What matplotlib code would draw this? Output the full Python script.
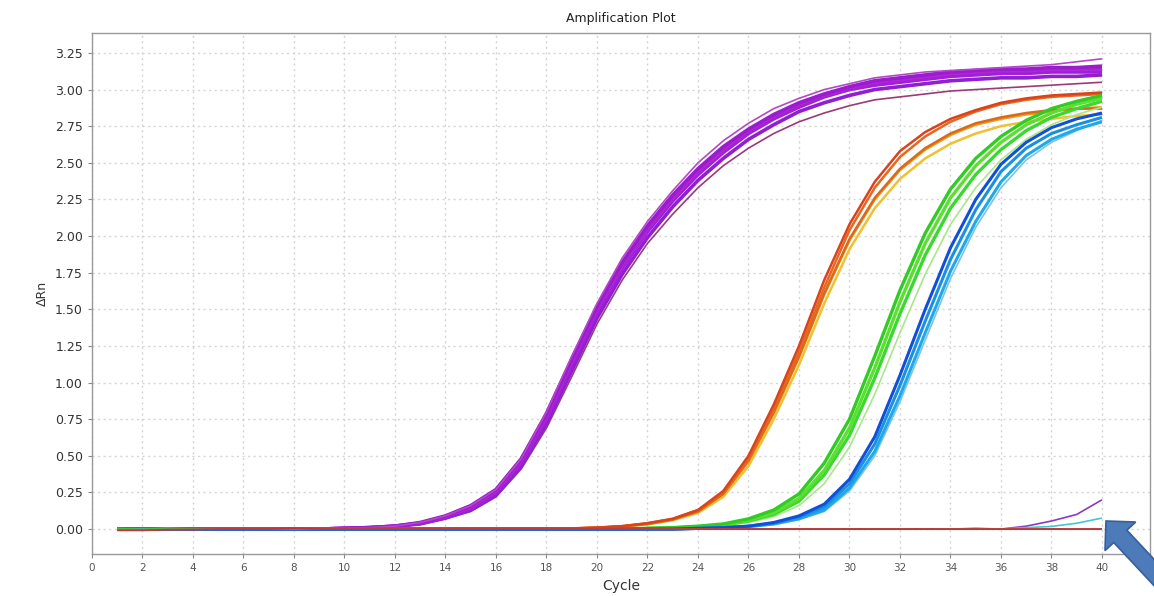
import matplotlib
matplotlib.use("Agg")
import matplotlib.pyplot as plt
from matplotlib.patches import FancyArrow

cycles = list(range(1, 41))

# ---- purple group (earliest) : cycles 1-9 baseline, then 10-19, 20-29, 30-40 ----
purple_1 = [0.0]*9 + [0.005, 0.01, 0.02, 0.04, 0.08, 0.14, 0.25, 0.45, 0.75, 1.12,
                      1.48, 1.78, 2.03, 2.24, 2.42, 2.57, 2.70, 2.80, 2.88, 2.95,
                      3.00, 3.03, 3.05, 3.07, 3.09, 3.10, 3.11, 3.11, 3.12, 3.12, 3.12]
purple_2 = [0.0]*9 + [0.005, 0.01, 0.02, 0.045, 0.09, 0.16, 0.27, 0.48, 0.79, 1.16,
                      1.52, 1.82, 2.07, 2.28, 2.46, 2.61, 2.73, 2.83, 2.91, 2.97,
                      3.02, 3.06, 3.08, 3.10, 3.12, 3.13, 3.14, 3.14, 3.15, 3.15, 3.16]
purple_3 = [0.0]*9 + [0.004, 0.008, 0.018, 0.035, 0.075, 0.13, 0.23, 0.43, 0.72, 1.08,
                      1.44, 1.74, 1.99, 2.20, 2.38, 2.53, 2.66, 2.76, 2.85, 2.91,
                      2.96, 3.00, 3.02, 3.04, 3.06, 3.07, 3.08, 3.08, 3.09, 3.09, 3.10]
purple_4 = [0.0]*9 + [0.005, 0.01, 0.02, 0.045, 0.09, 0.16, 0.27, 0.48, 0.80, 1.18,
                      1.54, 1.85, 2.10, 2.31, 2.50, 2.65, 2.77, 2.87, 2.94, 3.00,
                      3.04, 3.08, 3.10, 3.12, 3.13, 3.14, 3.15, 3.16, 3.17, 3.19, 3.21]
purple_5 = [0.0]*9 + [0.004, 0.008, 0.017, 0.033, 0.07, 0.12, 0.22, 0.41, 0.69, 1.04,
                      1.40, 1.70, 1.95, 2.15, 2.33, 2.48, 2.60, 2.70, 2.78, 2.84,
                      2.89, 2.93, 2.95, 2.97, 2.99, 3.00, 3.01, 3.02, 3.03, 3.04, 3.05]
purple_6 = [0.0]*9 + [0.005, 0.01, 0.02, 0.04, 0.085, 0.15, 0.26, 0.47, 0.77, 1.14,
                      1.50, 1.80, 2.05, 2.26, 2.44, 2.59, 2.72, 2.82, 2.90, 2.96,
                      3.01, 3.05, 3.07, 3.09, 3.11, 3.12, 3.13, 3.13, 3.14, 3.14, 3.14]

# ---- orange / yellow group : cycles 19-28, 29-40 ----
orange_1 = [0.0]*18 + [0.005, 0.01, 0.02, 0.04, 0.07, 0.13, 0.26, 0.50, 0.85, 1.25,
                       1.70, 2.08, 2.37, 2.58, 2.71, 2.80, 2.86, 2.91, 2.94, 2.96, 2.97, 2.98]
orange_2 = [0.0]*18 + [0.004, 0.01, 0.02, 0.04, 0.07, 0.13, 0.25, 0.48, 0.82, 1.21,
                       1.65, 2.04, 2.33, 2.54, 2.68, 2.78, 2.85, 2.90, 2.93, 2.95, 2.96, 2.97]
orange_3 = [0.0]*18 + [0.004, 0.009, 0.018, 0.035, 0.065, 0.12, 0.24, 0.46, 0.79, 1.17,
                       1.60, 1.97, 2.25, 2.45, 2.59, 2.69, 2.76, 2.80, 2.83, 2.85, 2.87, 2.88]
orange_4 = [0.0]*18 + [0.003, 0.008, 0.016, 0.032, 0.06, 0.11, 0.22, 0.43, 0.75, 1.12,
                       1.54, 1.91, 2.19, 2.39, 2.53, 2.63, 2.70, 2.75, 2.78, 2.80, 2.82, 2.83]
orange_5 = [0.0]*18 + [0.004, 0.009, 0.018, 0.035, 0.065, 0.12, 0.24, 0.47, 0.80, 1.18,
                       1.61, 1.98, 2.26, 2.46, 2.60, 2.70, 2.77, 2.81, 2.84, 2.86, 2.87, 2.87]

# ---- green group : cycles 22-31, 32-40 ----
green_1 = [0.0]*21 + [0.005, 0.01, 0.02, 0.035, 0.07, 0.13, 0.24, 0.45, 0.75, 1.18,
                      1.63, 2.02, 2.32, 2.53, 2.68, 2.79, 2.87, 2.92, 2.96]
green_2 = [0.0]*21 + [0.004, 0.008, 0.015, 0.03, 0.06, 0.11, 0.21, 0.40, 0.69, 1.10,
                      1.55, 1.95, 2.26, 2.48, 2.64, 2.76, 2.84, 2.90, 2.94]
green_3 = [0.0]*21 + [0.004, 0.008, 0.015, 0.028, 0.055, 0.10, 0.19, 0.37, 0.64, 1.03,
                      1.47, 1.87, 2.19, 2.42, 2.59, 2.72, 2.81, 2.87, 2.92]
green_4 = [0.0]*21 + [0.003, 0.006, 0.012, 0.024, 0.045, 0.085, 0.16, 0.31, 0.56, 0.92,
                      1.34, 1.74, 2.08, 2.33, 2.52, 2.66, 2.76, 2.83, 2.88]

# ---- blue group : cycles 24-33, 34-40 ----
blue_1 = [0.0]*23 + [0.005, 0.01, 0.02, 0.04, 0.08, 0.15, 0.31, 0.58, 0.98, 1.42,
                     1.84, 2.18, 2.44, 2.60, 2.70, 2.76, 2.81]
blue_2 = [0.0]*23 + [0.005, 0.01, 0.02, 0.045, 0.09, 0.17, 0.34, 0.63, 1.05, 1.50,
                     1.92, 2.25, 2.49, 2.64, 2.74, 2.80, 2.84]
blue_3 = [0.0]*23 + [0.004, 0.008, 0.016, 0.035, 0.07, 0.13, 0.28, 0.53, 0.91, 1.34,
                     1.76, 2.10, 2.37, 2.55, 2.66, 2.73, 2.78]
blue_4 = [0.0]*23 + [0.004, 0.008, 0.015, 0.03, 0.065, 0.12, 0.26, 0.50, 0.87, 1.29,
                     1.71, 2.06, 2.33, 2.52, 2.64, 2.72, 2.79]

# ---- late / negative wells ----
late_purple = [0.0]*34 + [0.005, 0.0, 0.02, 0.055, 0.10, 0.20]
late_cyan = [0.0]*35 + [0.0, 0.01, 0.018, 0.04, 0.075]
ntc_red = [-0.008, -0.008, -0.004, -0.003, 0.0, 0.0, 0.0, 0.004, 0.0] + [0.0]*31
noise_green = [0.004, -0.002, 0.008, 0.0, 0.0] + [0.0]*35

groups = [
    ([purple_5], ["#9c3a78"], 1.2),
    ([purple_3, purple_1, purple_6, purple_2], ["#8f1fd1", "#a21fd8", "#b024d4", "#9a1ccf"], 2.6),
    ([purple_4], ["#b448c8"], 1.2),
    ([orange_4, orange_3, orange_5], ["#f0c030", "#f09a20", "#d86a1a"], 1.8),
    ([orange_2, orange_1], ["#e8661e", "#d8441c"], 1.8),
    ([green_4], ["#a8e88a"], 1.2),
    ([green_3, green_2, green_1], ["#3ad830", "#5ce030", "#30cc24"], 2.4),
    ([blue_4], ["#78c4ec"], 1.2),
    ([blue_3, blue_1, blue_2], ["#20a8e8", "#1a90e0", "#1050d8"], 2.2),
    ([late_purple], ["#8a3cc0"], 1.2),
    ([late_cyan], ["#40c8d0"], 1.2),
    ([noise_green], ["#40c040"], 1.2),
    ([ntc_red], ["#c8323c"], 1.4),
]

fig = plt.figure(figsize=(11.54, 5.96), dpi=100)
ax = fig.add_axes([0.0797, 0.0705, 0.9168, 0.8741])

for curves, colors, lw in groups:
    for c, col in zip(curves, colors):
        ax.plot(cycles, c, color=col, lw=lw, solid_capstyle="butt")

ax.set_xlim(0, 41.9)
ax.set_ylim(-0.17, 3.386)
ax.set_xticks(range(0, 41, 2))
yt = [i * 0.25 for i in range(14)]
ax.set_yticks(yt)
ax.set_yticklabels([f"{v:.2f}" for v in yt])
ax.grid(True, color="#d4d4d4", linestyle=(0, (1.5, 2.5)), linewidth=1.0)
ax.set_axisbelow(True)
ax.tick_params(axis="y", labelsize=9, colors="#333333", length=3, color="#888888")
ax.tick_params(axis="x", labelsize=7.5, colors="#555555", length=3, color="#888888")
for s in ax.spines.values():
    s.set_color("#999999")
    s.set_linewidth(1.0)

ax.set_title("Amplification Plot", fontsize=9, color="#222222", pad=8)
ax.set_xlabel("Cycle", fontsize=10, color="#333333", labelpad=4)
ax.set_ylabel("\u0394Rn", fontsize=9, color="#333333", labelpad=4)

# callout arrow (figure pixels, origin bottom-left), pointing up-left at 45 degrees
arrow = FancyArrow(1190, -15, -84, 90, width=18, head_width=42, head_length=21,
                   length_includes_head=True, transform=None,
                   facecolor="#4d7ab8", edgecolor="#35609a", linewidth=1.2,
                   clip_on=False)
fig.patches.append(arrow)

fig.savefig("out.png", dpi=100)
